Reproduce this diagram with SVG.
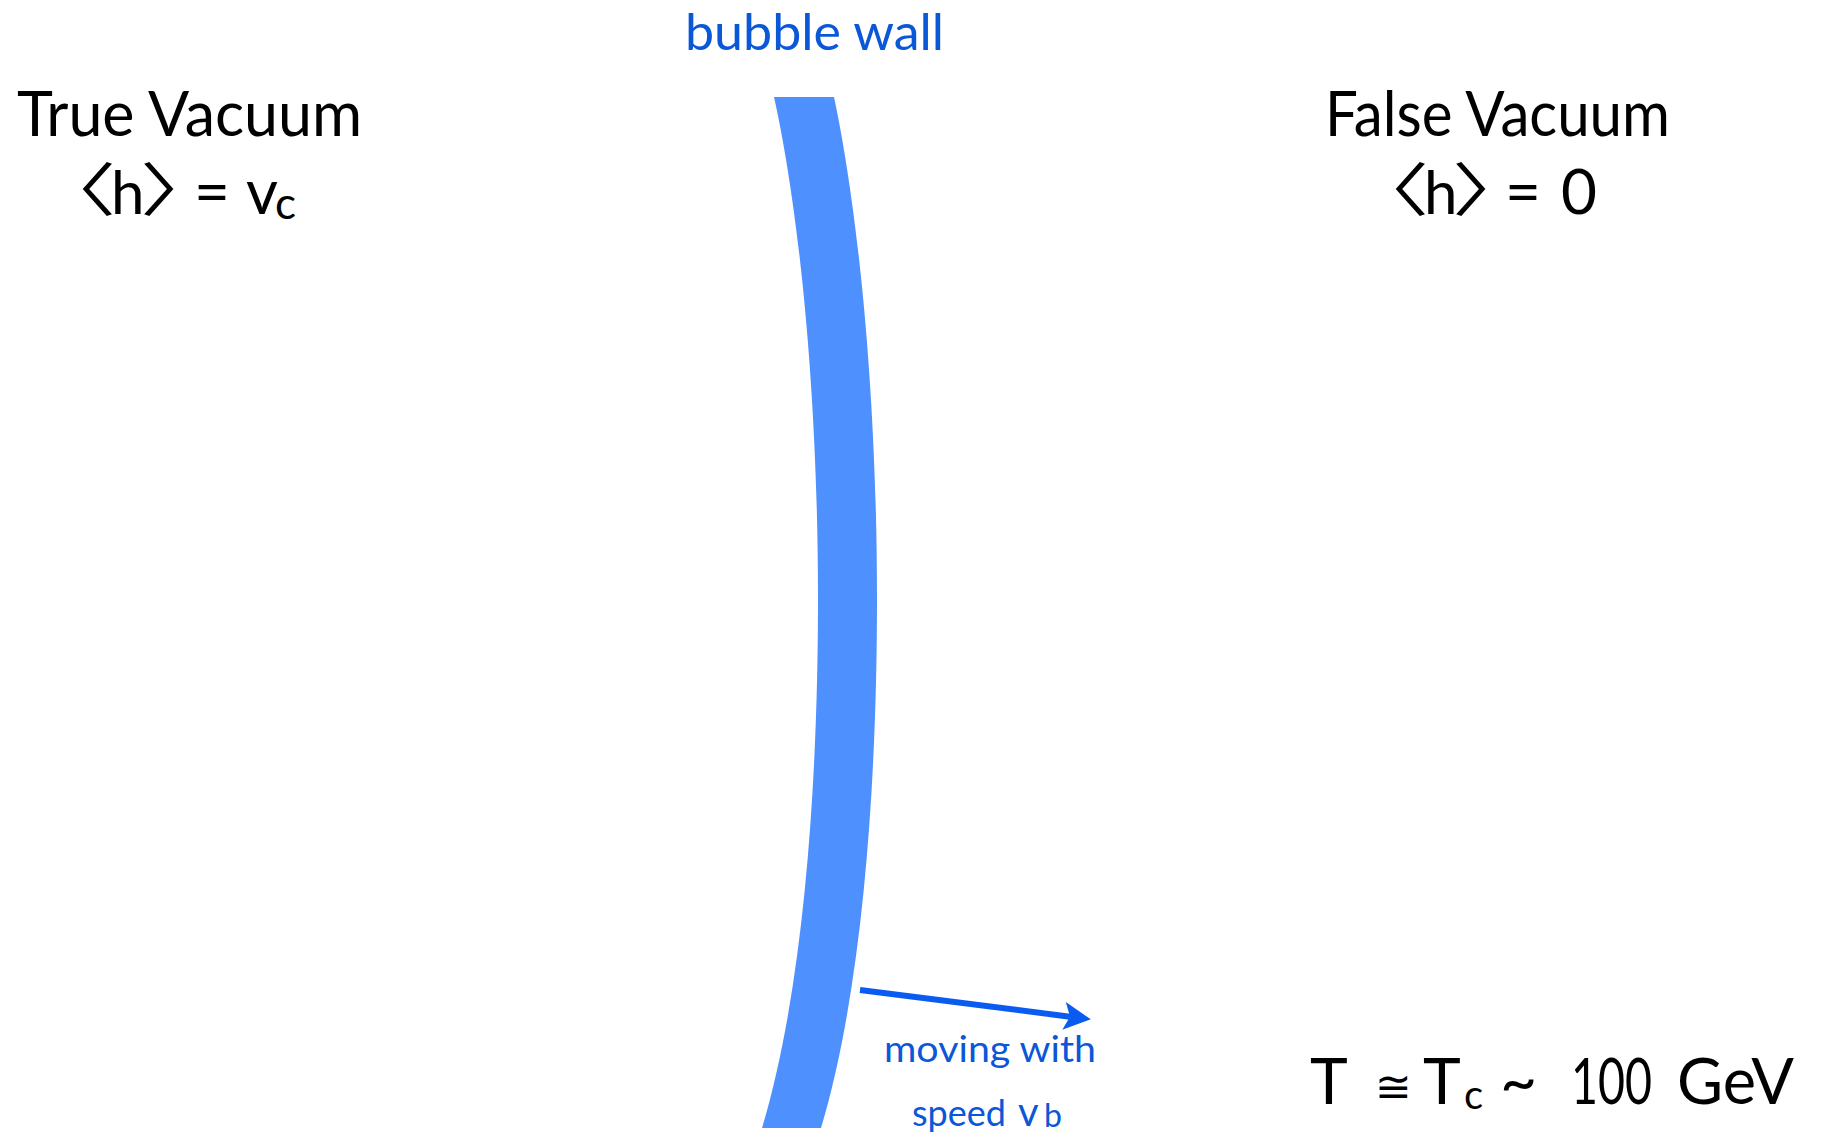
<svg xmlns="http://www.w3.org/2000/svg" width="1827" height="1133" viewBox="0 0 1827 1133">
<style>
.blk{font-family:Lato,"Open Sans","DejaVu Sans",sans-serif;fill:#000}
.blu{font-family:Lato,"Open Sans","DejaVu Sans",sans-serif;fill:#0a57d8}
.sym{font-family:"DejaVu Sans",Lato,sans-serif;fill:#000}
.br{font-family:"Noto Sans CJK JP","Noto Sans CJK SC",sans-serif;fill:#000;font-size:58px}
</style>
<defs>
<marker id="ah" markerWidth="28" markerHeight="28" refX="6" refY="14" orient="auto" markerUnits="userSpaceOnUse">
<path d="M0,0 L27,14 L0,28 L6,14 Z" fill="#0a5cf0"/>
</marker>
</defs>
<rect width="1827" height="1133" fill="#fff"/>
<g id="wall">
<path d="M774,97 C797,200 818,380 818,600 C818,760 807,978 762,1128 L821,1128 C866,978 877,760 877,600 C877,380 856,200 834,97 Z" fill="#4f90ff"/>
</g>
<g id="wall-label">
<text class="blu" x="685" y="50" font-size="50" textLength="259" lengthAdjust="spacingAndGlyphs">bubble wall</text>
</g>
<g id="true-vacuum">
<text class="blk" x="17" y="136" font-size="62" textLength="345" lengthAdjust="spacingAndGlyphs">True Vacuum</text>
<text class="br" transform="translate(35,211) scale(1.4,1)">〈</text>
<text class="blk" x="111" y="214" font-size="60">h</text>
<text class="br" transform="translate(140,211) scale(1.4,1)">〉</text>
<text class="blk" y="214" font-size="62"><tspan x="194">=</tspan><tspan x="246">v</tspan><tspan x="275" y="219" font-size="44">c</tspan></text>
</g>
<g id="false-vacuum">
<text class="blk" x="1325" y="136" font-size="62" textLength="345" lengthAdjust="spacingAndGlyphs">False Vacuum</text>
<text class="br" transform="translate(1348,211) scale(1.4,1)">〈</text>
<text class="blk" x="1424" y="214" font-size="60">h</text>
<text class="br" transform="translate(1452,211) scale(1.4,1)">〉</text>
<text class="blk" y="214" font-size="62"><tspan x="1505">=</tspan><tspan x="1561">0</tspan></text>
</g>
<g id="temperature">
<text class="blk" x="1310" y="1104" font-size="64">T</text>
<text class="sym" x="1375" y="1102" font-size="44">≅</text>
<text class="blk" y="1104" font-size="64"><tspan x="1423">T</tspan><tspan x="1464" y="1109" font-size="40">c</tspan><tspan x="1500" y="1104">~</tspan></text>
<text class="blk" x="1571" y="1104" font-size="64" textLength="81" lengthAdjust="spacingAndGlyphs">100</text>
<text class="blk" x="1677" y="1104" font-size="64" textLength="117" lengthAdjust="spacingAndGlyphs">GeV</text>
</g>
<g id="connectors">
<line x1="860" y1="990" x2="1070" y2="1016.7" stroke="#0a5cf0" stroke-width="6" marker-end="url(#ah)"/>
</g>
<g id="motion-label">
<text class="blu" x="884" y="1062" font-size="36" textLength="212" lengthAdjust="spacingAndGlyphs">moving with</text>
<text class="blu" y="1126" font-size="36"><tspan x="912">speed</tspan><tspan x="1018" font-size="40">v</tspan><tspan x="1044" y="1127" font-size="32">b</tspan></text>
</g>
</svg>
